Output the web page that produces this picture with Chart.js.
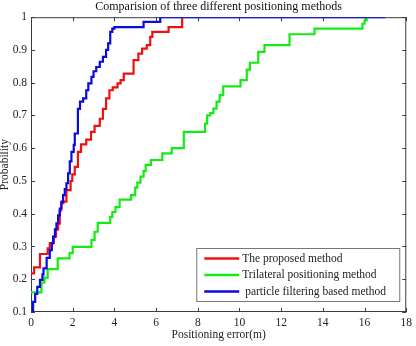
<!DOCTYPE html>
<html>
<head>
<meta charset="utf-8">
<title>Comparision of three different positioning methods</title>
<script src="https://cdn.jsdelivr.net/npm/chart.js@4.4.1/dist/chart.umd.min.js"></script>
<style>
  html, body { margin: 0; padding: 0; background: #fff; }
</style>
</head>
<body>
<canvas id="cdfChart" width="416" height="346"></canvas>
<script>
const proposedErr  = [0, 0.15, 0.43, 0.8, 0.9, 1.1, 1.2, 1.3, 1.38, 1.45, 1.55, 1.7, 1.9, 1.98, 2.1, 2.25, 2.4, 2.65, 2.88, 3.05, 3.3, 3.45, 3.6, 3.76, 3.92, 4.15, 4.3, 4.45, 4.92, 5.15, 5.33, 5.55, 5.72, 5.82, 6.6, 7.25];
const proposedProb = [0.218, 0.236, 0.277, 0.294, 0.31, 0.33, 0.352, 0.37, 0.41, 0.432, 0.437, 0.472, 0.5, 0.52, 0.543, 0.589, 0.612, 0.626, 0.65, 0.668, 0.69, 0.72, 0.752, 0.777, 0.786, 0.798, 0.808, 0.828, 0.869, 0.889, 0.904, 0.915, 0.94, 0.955, 0.97, 1.0];

const trilatErr  = [0, 0.5, 0.65, 0.8, 1.28, 1.85, 2.0, 2.9, 3.05, 3.2, 3.8, 3.9, 4.05, 4.25, 4.8, 5.0, 5.1, 5.25, 5.4, 5.5, 5.75, 6.3, 6.75, 7.33, 8.35, 8.45, 8.6, 8.75, 8.9, 9.05, 9.22, 10.05, 10.35, 10.5, 10.9, 11.2, 12.4, 13.6, 15.9, 16.0, 16.1];
const trilatProb = [0.16, 0.19, 0.205, 0.231, 0.264, 0.28, 0.299, 0.32, 0.345, 0.372, 0.39, 0.405, 0.42, 0.443, 0.457, 0.48, 0.495, 0.513, 0.53, 0.549, 0.564, 0.584, 0.6, 0.65, 0.675, 0.7, 0.707, 0.721, 0.742, 0.762, 0.789, 0.808, 0.84, 0.861, 0.894, 0.915, 0.948, 0.965, 0.98, 0.99, 1.0];

const particleErr  = [0.05, 0.1, 0.2, 0.3, 0.43, 0.55, 0.6, 0.75, 0.9, 1.0, 1.06, 1.15, 1.22, 1.3, 1.38, 1.46, 1.54, 1.62, 1.7, 1.78, 1.86, 1.94, 2.05, 2.1, 2.25, 2.35, 2.5, 2.65, 2.75, 2.9, 3.0, 3.13, 3.3, 3.45, 3.6, 3.7, 3.8, 3.9, 4.0, 5.4, 6.2, 17];
const particleProb = [0.1, 0.131, 0.155, 0.177, 0.198, 0.215, 0.233, 0.265, 0.289, 0.31, 0.33, 0.352, 0.371, 0.395, 0.416, 0.437, 0.457, 0.475, 0.493, 0.523, 0.56, 0.589, 0.61, 0.645, 0.72, 0.742, 0.752, 0.777, 0.798, 0.818, 0.835, 0.848, 0.864, 0.879, 0.9, 0.92, 0.955, 0.965, 0.97, 0.986, 1.0, 1.0];

const seriesNames = ['The proposed method', 'Trilateral positioning method', ' particle filtering based method'];
const xTicks = [0, 2, 4, 6, 8, 10, 12, 14, 16, 18];
const yTicks = [0.1, 0.2, 0.3, 0.4, 0.5, 0.6, 0.7, 0.8, 0.9, 1];

const serif = '"Liberation Serif", "Times New Roman", serif';
const textColor = '#222';
const fontSize = 11.5;

function toPoints(xs, ys) {
    return xs.map((x, i) => ({ x: x, y: ys[i] }));
}

// matlab style box with inward ticks on all four sides
const boxTicks = {
    id: 'boxTicks',
    beforeDatasetsDraw(chart) {
        const { ctx, chartArea: a, scales } = chart;
        const len = 4;
        ctx.save();
        ctx.strokeStyle = '#3c3c3c';
        ctx.lineWidth = 1;
        ctx.strokeRect(a.left + 0.5, a.top + 0.5, a.right - a.left - 1, a.bottom - a.top - 1);
        ctx.beginPath();
        scales.x.ticks.forEach(t => {
            const px = Math.round(scales.x.getPixelForValue(t.value)) + 0.5;
            ctx.moveTo(px, a.bottom); ctx.lineTo(px, a.bottom - len);
            ctx.moveTo(px, a.top); ctx.lineTo(px, a.top + len);
        });
        scales.y.ticks.forEach(t => {
            const py = Math.round(scales.y.getPixelForValue(t.value)) + 0.5;
            ctx.moveTo(a.left, py); ctx.lineTo(a.left + len, py);
            ctx.moveTo(a.right, py); ctx.lineTo(a.right - len, py);
        });
        ctx.stroke();
        ctx.restore();
    }
};

// legend box in the lower right corner of the plot
const boxLegend = {
    id: 'boxLegend',
    afterDatasetsDraw(chart) {
        const { ctx, chartArea: a } = chart;
        const w = 203, h = 53, rowH = 16.5;
        const left = a.right - 7 - w;
        const top = a.bottom - 11 - h;
        ctx.save();
        ctx.fillStyle = '#fff';
        ctx.fillRect(left, top, w, h);
        ctx.strokeStyle = '#777';
        ctx.lineWidth = 1;
        ctx.strokeRect(left + 0.5, top + 0.5, w, h);
        ctx.font = fontSize + 'px ' + serif;
        ctx.textBaseline = 'middle';
        chart.data.datasets.forEach((ds, i) => {
            const y = top + 10.5 + i * rowH;
            ctx.strokeStyle = ds.borderColor;
            ctx.lineWidth = 2.5;
            ctx.beginPath();
            ctx.moveTo(left + 8, y);
            ctx.lineTo(left + 43, y);
            ctx.stroke();
            ctx.fillStyle = textColor;
            ctx.fillText(ds.label, left + 46, y);
        });
        ctx.restore();
    }
};

const lineStyle = { borderWidth: 2.2, pointRadius: 0, stepped: true, fill: false };

new Chart(document.getElementById('cdfChart'), {
    type: 'line',
    data: {
        datasets: [
            { label: seriesNames[0], data: toPoints(proposedErr, proposedProb), borderColor: 'rgb(240,16,16)', order: 3, ...lineStyle },
            { label: seriesNames[1], data: toPoints(trilatErr, trilatProb), borderColor: 'rgb(20,235,20)', order: 2, ...lineStyle },
            { label: seriesNames[2], data: toPoints(particleErr, particleProb), borderColor: 'rgb(10,10,225)', order: 1, ...lineStyle }
        ]
    },
    options: {
        responsive: false,
        animation: false,
        layout: { padding: { left: 0, right: 7, top: 0, bottom: 0 } },
        plugins: {
            legend: { display: false },
            tooltip: { enabled: false },
            title: {
                display: true,
                text: 'Comparision of three different positioning methods',
                fullSize: false,
                color: '#111',
                font: { family: serif, size: 12, weight: 'normal', lineHeight: 1.1 },
                padding: { top: 0, bottom: 4 }
            }
        },
        scales: {
            x: {
                type: 'linear',
                min: 0,
                max: 18,
                afterBuildTicks: s => { s.ticks = xTicks.map(v => ({ value: v })); },
                afterFit: s => { s.height = 34; },
                grid: { display: false, drawTicks: false },
                border: { display: false },
                ticks: { color: textColor, padding: 4, maxRotation: 0, font: { family: serif, size: fontSize } },
                title: { display: true, text: 'Positioning error(m)', color: textColor, font: { family: serif, size: fontSize }, padding: { top: 0, bottom: 4 } }
            },
            y: {
                type: 'linear',
                min: 0.1,
                max: 1,
                afterBuildTicks: s => { s.ticks = yTicks.map(v => ({ value: v })); },
                afterFit: s => { s.width = 31; },
                grid: { display: false, drawTicks: false },
                border: { display: false },
                ticks: { color: textColor, padding: 4, font: { family: serif, size: fontSize }, callback: v => String(Number(v.toFixed(1))) },
                title: { display: true, text: 'Probability', color: textColor, font: { family: serif, size: fontSize }, padding: { top: -2, bottom: 0 } }
            }
        }
    },
    plugins: [boxTicks, boxLegend]
});
</script>
</body>
</html>
